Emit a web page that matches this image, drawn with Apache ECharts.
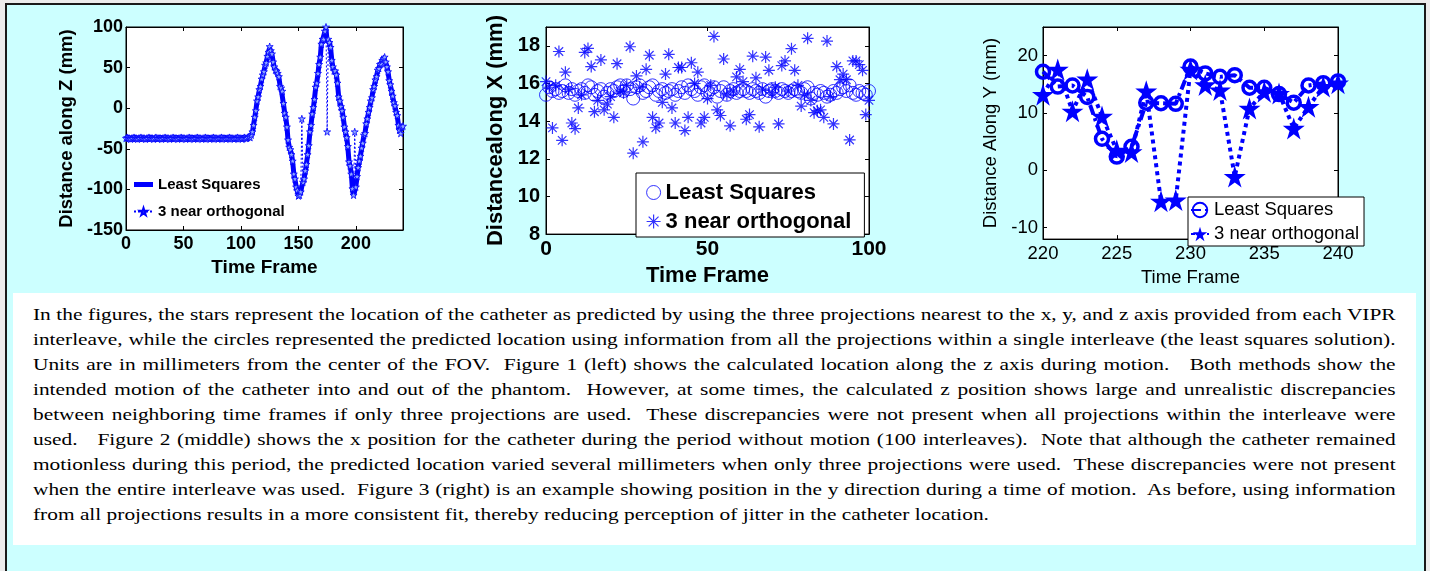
<!DOCTYPE html>
<html>
<head>
<meta charset="utf-8">
<script src="https://cdn.jsdelivr.net/npm/echarts@6/dist/echarts.min.js"></script>
<style>
  body { margin: 0; background: #ececec; width: 1430px; height: 571px; overflow: hidden; position: relative; }
  #frame { position: absolute; left: 5px; top: 3px; width: 1417px; height: 620px; border: 2px solid #1a1a1a; background: #ccffff; }
  .chart { position: absolute; top: 0; height: 292px; }
  #note { position: absolute; left: 13px; top: 293px; width: 1403px; height: 252px; box-sizing: border-box;
          background: #fff; padding: 9px 0 0 20px; }
  #note .txt { width: 1084px; transform: scaleX(1.257); transform-origin: 0 0;
          font-family: "Liberation Serif", "Times New Roman", serif; font-size: 17px; line-height: 25px; color: #000; }
  #note .ln { white-space: nowrap; text-align: justify; text-align-last: justify; }
  #note .ln.last { text-align-last: left; }
</style>
</head>
<body>
<div id="frame"></div>
<div class="chart" id="chartZ" style="left:0;width:470px"></div>
<div class="chart" id="chartX" style="left:470px;width:460px"></div>
<div class="chart" id="chartY" style="left:960px;width:465px"></div>
<div id="note"><div class="txt">
  <div class="ln">In the figures, the stars represent the location of the catheter as predicted by using the three projections nearest to the x, y, and z axis provided from each VIPR</div>
  <div class="ln">interleave, while the circles represented the predicted location using information from all the projections within a single interleave (the least squares solution).</div>
  <div class="ln">Units are in millimeters from the center of the FOV.&nbsp; Figure 1 (left) shows the calculated location along the z axis during motion.&nbsp;&nbsp; Both methods show the</div>
  <div class="ln">intended motion of the catheter into and out of the phantom.&nbsp; However, at some times, the calculated z position shows large and unrealistic discrepancies</div>
  <div class="ln">between neighboring time frames if only three projections are used.&nbsp; These discrepancies were not present when all projections within the interleave were</div>
  <div class="ln">used.&nbsp;&nbsp; Figure 2 (middle) shows the x position for the catheter during the period without motion (100 interleaves).&nbsp; Note that although the catheter remained</div>
  <div class="ln">motionless during this period, the predicted location varied several millimeters when only three projections were used.&nbsp; These discrepancies were not present</div>
  <div class="ln">when the entire interleave was used.&nbsp; Figure 3 (right) is an example showing position in the y direction during a time of motion.&nbsp; As before, using information</div>
  <div class="ln last">from all projections results in a more consistent fit, thereby reducing perception of jitter in the catheter location.</div>
</div></div>
<script>
// ---- figure 1: z position, frames 0..241 ----
const lsZ = [
  -37,-37,-36,-37,-37,-38,-37,-37,-36,-37,
  -37,-38,-37,-37,-37,-36,-37,-37,-38,-37,
  -37,-37,-36,-37,-37,-37,-38,-37,-37,-37,
  -36,-37,-37,-38,-37,-37,-37,-36,-37,-37,
  -38,-37,-37,-37,-36,-37,-37,-38,-37,-37,
  -37,-36,-37,-37,-38,-37,-37,-37,-36,-37,
  -37,-38,-37,-37,-37,-36,-37,-37,-38,-37,
  -37,-37,-36,-37,-37,-38,-37,-37,-37,-36,
  -37,-37,-38,-37,-37,-37,-36,-37,-37,-38,
  -37,-37,-37,-36,-37,-37,-38,-37,-37,-36,
  -37,-37,-36,-37,-37,-36,-36,-35,-35,-34,
  -30,-20,-12,-2,8,15,22,28,35,40,
  46,52,57,63,70,74,72,66,58,50,
  48,46,44,38,28,24,22,5,-5,-12,
  -22,-40,-47,-52,-56,-66,-80,-88,-96,-102,
  -108,-108,-104,-96,-92,-86,-78,-68,-58,-45,
  -30,-20,-8,0,12,25,32,42,55,62,
  80,84,86,94,98,82,84,82,74,60,
  50,47,45,42,30,15,8,3,-2,-12,
  -22,-30,-35,-48,-65,-72,-80,-100,-108,-106,
  -96,-85,-72,-66,-58,-50,-42,-34,-30,-20,
  -12,-6,2,8,14,22,28,34,40,46,
  50,53,56,58,62,64,56,52,44,35,
  28,22,14,8,2,-4,-10,-20,-28,-30,
  -24,-22
];
const orthoZ = [
  -37,-36,-37,-37,-38,-37,-37,-36,-37,-37,
  -38,-37,-37,-36,-37,-37,-37,-38,-37,-37,
  -36,-37,-37,-37,-38,-37,-36,-37,-37,-37,
  -37,-38,-37,-37,-36,-37,-37,-37,-38,-37,
  -37,-36,-37,-37,-37,-38,-37,-37,-36,-37,
  -37,-37,-38,-37,-37,-36,-37,-37,-37,-38,
  -37,-37,-36,-37,-37,-37,-38,-37,-37,-36,
  -37,-37,-37,-38,-37,-37,-36,-37,-37,-37,
  -38,-37,-37,-36,-37,-37,-37,-38,-37,-37,
  -36,-37,-37,-37,-38,-37,-37,-36,-37,-37,
  -37,-38,-37,-36,-37,-37,-36,-35,-36,-33,
  -29,-21,-11,-3,9,14,23,27,36,41,
  45,53,56,64,69,76,71,67,57,51,
  47,46,43,39,27,25,21,6,-6,-11,
  -23,-39,-48,-51,-57,-65,-81,-87,-97,-101,
  -108,-107,-103,-13,-91,-87,-77,-69,-57,-46,
  -29,-21,-7,1,11,26,31,43,54,63,
  79,85,85,95,100,-29,85,81,75,59,
  51,46,46,41,31,14,9,2,-3,-11,
  -23,-29,-36,-47,-66,-71,-81,-99,-107,-29,
  -97,-84,-73,-65,-59,-49,-43,-33,-31,-19,
  -13,-5,1,9,13,23,27,35,39,47,
  49,54,55,59,61,63,57,51,45,34,
  29,21,15,7,3,-5,-9,-21,-27,-31,
  -23,-22
];

// ---- figure 2: x position, frames 0..100 ----
const lsX = [
  15.4,15.8,15.6,15.7,15.5,15.6,15.9,15.5,15.7,15.4,
  15.6,15.7,15.5,15.9,15.8,15.4,15.6,15.7,15.3,15.5,
  15.7,15.6,15.8,15.9,15.6,15.9,15.7,15.2,15.8,15.9,
  15.5,15.6,15.8,15.9,15.4,15.6,15.7,15.5,15.6,15.7,
  15.4,15.6,15.8,15.5,15.9,15.7,15.6,15.4,15.8,15.9,
  15.5,15.7,15.8,15.3,15.6,15.8,15.4,15.6,15.7,15.5,
  15.6,15.7,15.6,15.5,15.7,15.6,15.5,15.7,15.3,15.6,
  15.7,15.6,15.5,15.7,15.6,15.5,15.6,15.7,15.6,15.5,
  15.7,15.8,15.2,15.5,15.4,15.6,15.5,15.3,15.4,15.6,
  15.5,15.7,15.8,15.6,15.9,15.5,15.4,15.6,15.5,15.4,
  15.6
];
const orthoX = [
  16.1,15.8,13.64,15.9,17.7,12.98,16.6,15.7,13.9,13.6,
  14.7,15.4,17.65,17.86,16.9,14.5,15.1,17.25,14.6,14.9,
  15.3,14.2,17.05,15.6,15.5,15.9,17.95,12.3,16.4,15.8,
  12.9,16.75,17.5,14.2,13.65,13.9,15.0,16.5,17.55,14.7,
  13.9,16.85,16.85,13.5,14.2,17.1,16.0,16.6,13.9,14.2,
  15.2,15.9,18.5,14.6,14.3,17.3,15.4,13.75,15.6,16.35,
  16.75,16.1,14.1,14.35,17.45,16.3,13.7,15.7,17.4,16.7,
  15.5,15.8,13.85,16.95,17.2,15.6,17.85,16.7,15.9,14.8,
  15.4,18.4,15.1,14.45,14.55,14.6,14.2,18.25,15.3,13.85,
  16.9,16.2,16.5,16.2,13.0,17.2,17.2,17.0,16.7,14.35,
  15.1
];

// ---- figure 3: y position, frames 220..240 ----
const framesY = [220,221,222,223,224,225,226,227,228,229,230,231,232,233,234,235,236,237,238,239,240];
const lsY = [17.2,14.6,14.8,12.8,5.5,2.4,4.1,11.8,11.7,11.6,18.1,16.9,16.3,16.6,14.4,14.4,13.3,11.8,14.8,15.2,15.5];
const orthoY = [13.2,17.6,10.3,15.9,9.4,3.5,3.2,13.8,-5.4,-5.2,17.6,14.9,14.0,-1.1,10.8,13.7,13.4,7.3,11.1,14.6,15.2];
const yTicksY = [-10, 0, 10, 20];

const BLUE = '#0000ff';
const SANS = '"Liberation Sans", Arial, sans-serif';
const STAR = 'path://M0,-10L2.245,-3.09L9.511,-3.09L3.633,1.18L5.878,8.09L0,3.82L-5.878,8.09L-3.633,1.18L-9.511,-3.09L-2.245,-3.09Z';
const ASTER = 'path://M0,-10L0,10M-10,0L10,0M-7.07,-7.07L7.07,7.07M-7.07,7.07L7.07,-7.07';
const THICK_LINE = 'path://M0,0M0,2L19,2L19,7L0,7ZM19,9';

function frameAxes(kind, min, max, interval, label, extra) {
  // main axis with labels plus a mirrored one for the matlab box ticks
  const tick = { show: true, inside: true, length: 4, lineStyle: { color: '#000' } };
  const base = {
    type: 'value', min: min, max: max, interval: interval,
    axisLine: { show: true, onZero: false, lineStyle: { color: '#000' } },
    axisTick: tick, splitLine: { show: false }
  };
  const main = Object.assign({}, base, {
    axisLabel: Object.assign({ color: '#000', fontFamily: SANS }, label)
  }, extra);
  const mirror = Object.assign({}, base, {
    position: kind === 'x' ? 'top' : 'right',
    axisLabel: { show: false }
  });
  if (extra && extra.axisTick) mirror.axisTick = extra.axisTick;
  return [main, mirror];
}

function pairs(xs, ys) { return ys.map((v, i) => [xs[i], v]); }
function byIndex(ys) { return ys.map((v, i) => [i, v]); }

// ---------- chart Z ----------
const chartZ = echarts.init(document.getElementById('chartZ'));
chartZ.setOption({
  animation: false,
  grid: { left: 126, top: 27, width: 277, height: 203, show: true, backgroundColor: '#fff', borderColor: '#000', borderWidth: 1 },
  xAxis: frameAxes('x', 0, 241, 50,
    { fontSize: 18, fontWeight: 'bold', margin: 5, showMaxLabel: false, showMinLabel: true },
    { name: 'Time Frame', nameLocation: 'middle', nameGap: 22,
      nameTextStyle: { color: '#000', fontSize: 19, fontWeight: 'bold', fontFamily: SANS } }),
  yAxis: frameAxes('y', -150, 100, 50,
    { fontSize: 18, fontWeight: 'bold', margin: 3, showMaxLabel: true, showMinLabel: true },
    { name: 'Distance along Z (mm)', nameLocation: 'middle', nameGap: 39,
      nameTextStyle: { color: '#000', fontSize: 18.5, fontWeight: 'bold', fontFamily: SANS } }),
  legend: {
    left: 133, top: 176, orient: 'vertical', itemGap: 10, itemWidth: 19, itemHeight: 9, padding: 0,
    textStyle: { color: '#000', fontSize: 15, fontWeight: 'bold', fontFamily: SANS, lineHeight: 17 },
    data: [{ name: 'Least Squares', icon: THICK_LINE }, '3 near orthogonal']
  },
  series: [
    { name: 'Least Squares', type: 'line', data: byIndex(lsZ), symbol: 'none',
      lineStyle: { color: BLUE, width: 5 }, itemStyle: { color: BLUE } },
    { name: '3 near orthogonal', type: 'line', data: byIndex(orthoZ), symbol: STAR, symbolSize: 7,
      lineStyle: { color: BLUE, width: 1, type: [2, 2] },
      itemStyle: { color: '#8fa8ff', borderColor: BLUE, borderWidth: 0.8 } }
  ]
});

// ---------- chart X ----------
const chartX = echarts.init(document.getElementById('chartX'));
chartX.setOption({
  animation: false,
  grid: { left: 76, top: 27, width: 323, height: 212, show: true, backgroundColor: '#fff', borderColor: '#000', borderWidth: 1 },
  xAxis: frameAxes('x', 0, 100, 50,
    { fontSize: 21, fontWeight: 'bold', margin: 5, showMaxLabel: true, showMinLabel: true },
    { name: 'Time Frame', nameLocation: 'middle', nameGap: 27,
      nameTextStyle: { color: '#000', fontSize: 22, fontWeight: 'bold', fontFamily: SANS } }),
  yAxis: frameAxes('y', 8, 19, 2,
    { fontSize: 20, fontWeight: 'bold', margin: 6, showMaxLabel: false, showMinLabel: true },
    { name: 'Distancealong X (mm)', nameLocation: 'middle', nameGap: 31,
      nameTextStyle: { color: '#000', fontSize: 22, fontWeight: 'bold', fontFamily: SANS } }),
  legend: {
    left: 166, top: 173, orient: 'vertical', itemGap: 6, itemWidth: 14, itemHeight: 14,
    padding: [8, 13, 4, 10], backgroundColor: '#fff', borderColor: '#000', borderWidth: 1,
    textStyle: { color: '#000', fontSize: 22, fontWeight: 'bold', fontFamily: SANS, lineHeight: 23 },
    data: [
      { name: 'Least Squares', itemStyle: { color: 'transparent', borderColor: BLUE, borderWidth: 1 } },
      { name: '3 near orthogonal', itemStyle: { color: 'transparent', borderColor: BLUE, borderWidth: 1.2 } }
    ]
  },
  series: [
    { name: 'Least Squares', type: 'scatter', data: byIndex(lsX), symbol: 'circle', symbolSize: 13,
      itemStyle: { color: 'transparent', borderColor: BLUE, borderWidth: 1 } },
    { name: '3 near orthogonal', type: 'scatter', data: byIndex(orthoX), symbol: ASTER, symbolSize: 12,
      itemStyle: { color: 'transparent', borderColor: BLUE, borderWidth: 1.2 } }
  ]
});

// ---------- chart Y ----------
const chartY = echarts.init(document.getElementById('chartY'));
const yTick = { show: true, inside: true, length: 4, lineStyle: { color: '#000' }, customValues: yTicksY };
chartY.setOption({
  animation: false,
  grid: { left: 83, top: 27, width: 295, height: 221, show: true, backgroundColor: '#fff', borderColor: '#000', borderWidth: 1 },
  xAxis: frameAxes('x', 220, 240, 5,
    { fontSize: 18.5, margin: 5, showMaxLabel: true, showMinLabel: true },
    { name: 'Time Frame', nameLocation: 'middle', nameGap: 21,
      nameTextStyle: { color: '#000', fontSize: 18.5, fontFamily: SANS } }),
  yAxis: frameAxes('y', -12, 25, null,
    { fontSize: 18.5, margin: 5, customValues: yTicksY },
    { name: 'Distance Along Y (mm)', nameLocation: 'middle', nameGap: 29, axisTick: yTick,
      nameTextStyle: { color: '#000', fontSize: 18.5, fontFamily: SANS } }),
  legend: {
    left: 228, top: 197, orient: 'vertical', itemGap: 4, itemWidth: 18, itemHeight: 18,
    padding: [3, 5, 2, 2], backgroundColor: '#fff', borderColor: '#000', borderWidth: 1,
    textStyle: { color: '#000', fontSize: 18.5, fontFamily: SANS, lineHeight: 20 },
    data: ['Least Squares', '3 near orthogonal']
  },
  series: [
    { name: 'Least Squares', type: 'line', data: pairs(framesY, lsY), symbol: 'circle', symbolSize: 13,
      lineStyle: { color: BLUE, width: 4, type: [10, 4, 3, 4] },
      itemStyle: { color: 'transparent', borderColor: BLUE, borderWidth: 3.5 } },
    { name: '3 near orthogonal', type: 'line', data: pairs(framesY, orthoY), symbol: STAR, symbolSize: 22,
      lineStyle: { color: BLUE, width: 4, type: [4, 4] },
      itemStyle: { color: BLUE } }
  ]
});
</script>
</body>
</html>
